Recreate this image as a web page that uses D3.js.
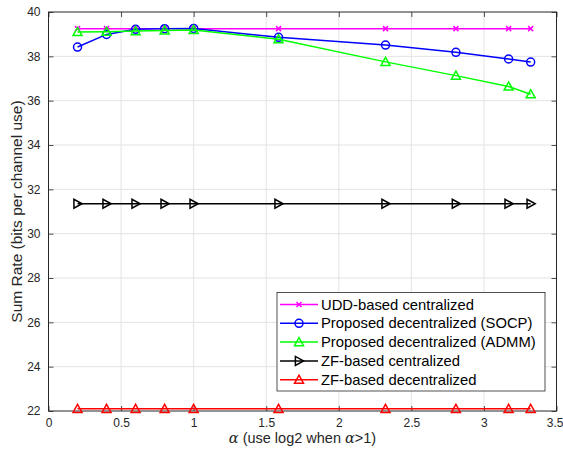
<!DOCTYPE html>
<html>
<head>
<meta charset="utf-8">
<script src="https://cdn.jsdelivr.net/npm/d3@7"></script>
<style>
  body { margin: 0; background: #fff; }
  svg { font-family: "Liberation Sans", Arial, sans-serif; }
</style>
</head>
<body>
<div id="chart"></div>
<script>
// alpha values (log2 used when alpha > 1)
var alphas = [0.2, 0.4, 0.6, 0.8, 1, 1.585, 2.322, 2.807, 3.170, 3.322];

var udd = [39.25, 39.25, 39.25, 39.25, 39.25, 39.25, 39.25, 39.25, 39.25, 39.25];
var socp = [38.42, 38.99, 39.22, 39.25, 39.26, 38.86, 38.51, 38.18, 37.88, 37.74];
var admm = [39.10, 39.11, 39.14, 39.17, 39.19, 38.77, 37.75, 37.13, 36.64, 36.29];
var zfCent = [31.35, 31.35, 31.35, 31.35, 31.35, 31.35, 31.35, 31.35, 31.35, 31.35];
var zfDec = [22.1, 22.1, 22.1, 22.1, 22.1, 22.1, 22.1, 22.1, 22.1, 22.1];

var seriesNames = ["UDD-based centralized", "Proposed decentralized (SOCP)",
    "Proposed decentralized (ADMM)", "ZF-based centralized", "ZF-based decentralized"];

var xTicks = [0, 0.5, 1, 1.5, 2, 2.5, 3, 3.5];
var yTicks = [22, 24, 26, 28, 30, 32, 34, 36, 38, 40];

var width = 563, height = 451;
var margin = { left: 48.5, right: 8, top: 12, bottom: 40 };

var series = [
    { name: seriesNames[0], values: udd, color: "#ff00ff", marker: "x" },
    { name: seriesNames[1], values: socp, color: "#0000ff", marker: "o" },
    { name: seriesNames[2], values: admm, color: "#00ff00", marker: "^" },
    { name: seriesNames[3], values: zfCent, color: "#000000", marker: ">" },
    { name: seriesNames[4], values: zfDec, color: "#ff0000", marker: "^" }
];

var svg = d3.select("#chart").append("svg")
    .attr("width", width)
    .attr("height", height);

var x = d3.scaleLinear().domain([0, 3.5]).range([margin.left, width - margin.right + 1.5]);
var y = d3.scaleLinear().domain([22, 40]).range([height - margin.bottom, margin.top]);

var x0 = x.range()[0], x1 = x.range()[1], y0 = y.range()[0], y1 = y.range()[1];

// grid
svg.append("g").selectAll("line")
    .data(xTicks.slice(1, -1))
    .enter().append("line")
    .attr("x1", d => x(d)).attr("x2", d => x(d))
    .attr("y1", y1).attr("y2", y0)
    .attr("stroke", "#e3e3e3").attr("stroke-width", 1);
svg.append("g").selectAll("line")
    .data(yTicks.slice(1, -1))
    .enter().append("line")
    .attr("x1", x0).attr("x2", x1)
    .attr("y1", d => y(d)).attr("y2", d => y(d))
    .attr("stroke", "#e3e3e3").attr("stroke-width", 1);

// axes (ticks inward, box on)
var axColor = "#262626";
var xAxis = d3.axisBottom(x).tickValues(xTicks).tickSize(-5).tickPadding(7).tickFormat(d3.format("~g"));
var yAxis = d3.axisLeft(y).tickValues(yTicks).tickSize(-5).tickPadding(8).tickFormat(d3.format("~g"));

var gx = svg.append("g").attr("transform", "translate(0," + y0 + ")").call(xAxis);
var gy = svg.append("g").attr("transform", "translate(" + x0 + ",0)").call(yAxis);
var gxt = svg.append("g").attr("transform", "translate(0," + y1 + ")")
    .call(d3.axisTop(x).tickValues(xTicks).tickSize(-5).tickFormat(""));
var gyr = svg.append("g").attr("transform", "translate(" + x1 + ",0)")
    .call(d3.axisRight(y).tickValues(yTicks).tickSize(-5).tickFormat(""));

[gx, gy, gxt, gyr].forEach(function (g) {
    g.select(".domain").remove();
    g.selectAll(".tick line").attr("stroke", axColor).attr("stroke-width", 0.8);
    g.selectAll(".tick text").attr("fill", axColor).attr("font-size", 12);
});
// last x label sits against the window edge
gx.selectAll(".tick text").filter(d => d === 3.5).attr("text-anchor", "end").attr("dx", 6.5);

svg.append("rect")
    .attr("x", x0).attr("y", y1)
    .attr("width", x1 - x0).attr("height", y0 - y1)
    .attr("fill", "none").attr("stroke", axColor).attr("stroke-width", 1);

// markers
function drawMarker(g, type, cx, cy, color) {
    if (type === "o") {
        g.append("circle").attr("cx", cx).attr("cy", cy).attr("r", 4)
            .attr("fill", "none").attr("stroke", color).attr("stroke-width", 1.5);
    } else if (type === "x") {
        var s = 2.5;
        g.append("path")
            .attr("d", "M" + (cx - s) + "," + (cy - s) + "L" + (cx + s) + "," + (cy + s) +
                "M" + (cx - s) + "," + (cy + s) + "L" + (cx + s) + "," + (cy - s))
            .attr("stroke", color).attr("stroke-width", 1.5);
    } else if (type === "^") {
        var t = 4.5;
        g.append("path")
            .attr("d", "M" + cx + "," + (cy - t) + "L" + (cx + t) + "," + (cy + t * 0.8) +
                "L" + (cx - t) + "," + (cy + t * 0.8) + "Z")
            .attr("fill", "none").attr("stroke", color).attr("stroke-width", 1.5);
    } else if (type === ">") {
        var r = 4.5;
        g.append("path")
            .attr("d", "M" + (cx + r) + "," + cy + "L" + (cx - r * 0.8) + "," + (cy - r) +
                "L" + (cx - r * 0.8) + "," + (cy + r) + "Z")
            .attr("fill", "none").attr("stroke", color).attr("stroke-width", 1.5);
    }
}

var line = d3.line().x(d => x(d[0])).y(d => y(d[1]));

series.forEach(function (s) {
    var pts = alphas.map((a, i) => [a, s.values[i]]);
    var g = svg.append("g");
    g.append("path").datum(pts)
        .attr("d", line)
        .attr("fill", "none")
        .attr("stroke", s.color)
        .attr("stroke-width", 1.5);
    pts.forEach(p => drawMarker(g, s.marker, x(p[0]), y(p[1]), s.color));
});

// legend
var lg = svg.append("g");
var lx = 277, ly = 292.5, lw = 268, lh = 98.5;
lg.append("rect").attr("x", lx).attr("y", ly).attr("width", lw).attr("height", lh)
    .attr("fill", "#fff").attr("stroke", axColor).attr("stroke-width", 0.8);
series.forEach(function (s, i) {
    var cy = ly + 12 + i * 18.8;
    lg.append("line").attr("x1", lx + 3).attr("x2", lx + 41)
        .attr("y1", cy).attr("y2", cy)
        .attr("stroke", s.color).attr("stroke-width", 1.5);
    drawMarker(lg, s.marker, lx + 22, cy, s.color);
    lg.append("text").attr("x", lx + 44).attr("y", cy + 5)
        .attr("font-size", 14.8).attr("fill", "#000")
        .text(s.name);
});

// axis labels
var xl = svg.append("text")
    .attr("x", (x0 + x1) / 2).attr("y", 443)
    .attr("text-anchor", "middle")
    .attr("font-size", 14.5).attr("fill", axColor);
xl.append("tspan").attr("font-family", "DejaVu Serif, serif").attr("font-style", "italic").text("α");
xl.append("tspan").text(" (use log2 when ");
xl.append("tspan").attr("font-family", "DejaVu Serif, serif").attr("font-style", "italic").text("α");
xl.append("tspan").text(">1)");

svg.append("text")
    .attr("transform", "translate(22," + ((y0 + y1) / 2) + ") rotate(-90)")
    .attr("text-anchor", "middle")
    .attr("font-size", 15.5).attr("fill", axColor)
    .text("Sum Rate (bits per channel use)");
</script>
</body>
</html>
